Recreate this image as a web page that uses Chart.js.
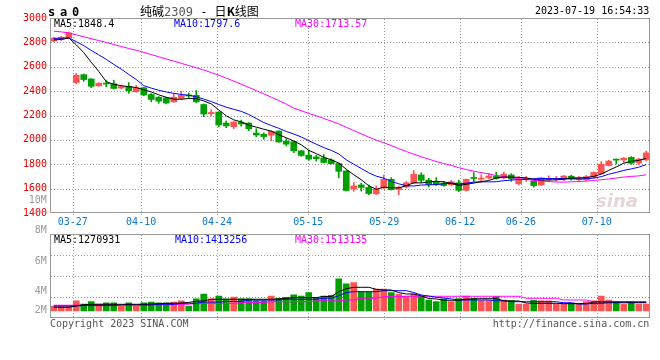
<!DOCTYPE html>
<html>
<head>
<meta charset="utf-8">
<script src="https://cdn.jsdelivr.net/npm/chart.js@4.4.0/dist/chart.umd.min.js"></script>
<style>
  body { margin: 0; background: #fff; }
  #wrap { position: relative; width: 660px; height: 360px; overflow: hidden;
          font-family: "DejaVu Sans Mono", monospace; font-size: 10px; color: #000; }
  #wrap canvas { position: absolute; left: 0; }
  .t { position: absolute; white-space: nowrap; line-height: 10px; }
  .cjk { font-family: "Noto Sans CJK SC", sans-serif; }
</style>
</head>
<body>
<div id="wrap">
  <canvas id="priceChart" width="660" height="230" style="top:0"></canvas>
  <canvas id="volChart" width="660" height="130" style="top:230px"></canvas>

  <div class="t" style="left:48px;top:6px;font-size:12px;line-height:12px;font-weight:bold;letter-spacing:4.8px">sa0</div>
  <div class="t" style="left:140px;top:4px;font-size:12px;line-height:13px"><span class="cjk">纯碱</span><span style="color:#555">2309</span> -  <span class="cjk">日<b>K</b>线图</span></div>
  <div class="t" style="right:10.7px;top:6px">2023-07-19 16:54:33</div>

  <div class="t" style="left:54px;top:18.5px;color:#000">MA5:1848.4</div>
  <div class="t" style="left:174px;top:18.5px;color:#0000ff">MA10:1797.6</div>
  <div class="t" style="left:295px;top:18.5px;color:#ff00ff">MA30:1713.57</div>

  <div class="t" style="left:54px;top:234.5px;color:#000">MA5:1270931</div>
  <div class="t" style="left:175px;top:234.5px;color:#0000ff">MA10:1413256</div>
  <div class="t" style="left:295px;top:234.5px;color:#ff00ff">MA30:1513135</div>

  <div class="t" style="left:50px;top:318.5px;color:#555">Copyright 2023 SINA.COM</div>
  <div class="t" style="right:10.7px;top:318.5px;color:#555">http://finance.sina.com.cn</div>

  <div class="t" style="left:596px;top:192px;font-family:'DejaVu Sans';font-size:18px;line-height:18px;font-weight:bold;font-style:italic;color:rgba(205,180,180,0.55)">sina</div>
</div>

<script>
"use strict";

// ---- data ----------------------------------------------------------------
const dates = [
  "03-22","03-23","03-24","03-27","03-28","03-29","03-30","03-31","04-03","04-04",
  "04-06","04-07","04-10","04-11","04-12","04-13","04-14","04-17","04-18","04-19",
  "04-20","04-21","04-24","04-25","04-26","04-27","04-28","05-04","05-05","05-08",
  "05-09","05-10","05-11","05-12","05-15","05-16","05-17","05-18","05-19","05-22",
  "05-23","05-24","05-25","05-26","05-29","05-30","05-31","06-01","06-02","06-05",
  "06-06","06-07","06-08","06-09","06-12","06-13","06-14","06-15","06-16","06-19",
  "06-20","06-21","06-26","06-27","06-28","06-29","06-30","07-03","07-04","07-05",
  "07-06","07-07","07-10","07-11","07-12","07-13","07-14","07-17","07-18","07-19"
];
const labelledDates = ["03-27","04-10","04-24","05-15","05-29","06-12","06-26","07-10"];

const openP = [
  2812,2825,2835,2470,2535,2500,2443,2465,2460,2425,
  2438,2395,2428,2372,2350,2345,2312,2340,2365,2365,
  2290,2215,2228,2138,2108,2145,2138,2056,2046,2038,
  2072,1990,1985,1910,1875,1860,1852,1835,1806,1745,
  1598,1630,1610,1558,1605,1676,1592,1614,1646,1712,
  1670,1656,1645,1632,1648,1586,1692,1677,1688,1703,
  1688,1712,1640,1676,1662,1630,1673,1675,1678,1702,
  1673,1673,1695,1722,1790,1840,1835,1856,1810,1836
];
const highP = [
  2842,2850,2885,2545,2540,2502,2468,2490,2490,2450,
  2470,2447,2432,2380,2355,2350,2378,2400,2385,2405,
  2295,2248,2232,2155,2150,2162,2142,2092,2058,2075,
  2075,2010,1988,1915,1915,1875,1880,1845,1810,1748,
  1650,1645,1630,1622,1712,1690,1622,1660,1748,1730,
  1685,1690,1660,1668,1670,1680,1732,1712,1725,1735,
  1735,1722,1700,1700,1668,1692,1705,1700,1708,1710,
  1700,1708,1738,1822,1833,1843,1855,1862,1848,1908
];
const lowP = [
  2805,2815,2830,2460,2480,2428,2440,2435,2418,2420,
  2382,2390,2362,2312,2300,2295,2308,2332,2345,2305,
  2190,2195,2108,2100,2092,2112,2075,2025,2005,1993,
  1980,1950,1895,1865,1832,1825,1810,1800,1688,1580,
  1578,1580,1550,1550,1600,1588,1550,1605,1640,1650,
  1615,1625,1620,1622,1575,1580,1658,1650,1680,1677,
  1680,1660,1630,1660,1612,1625,1658,1660,1665,1670,
  1665,1665,1685,1718,1785,1802,1815,1800,1795,1828
];
const closeP = [
  2835,2842,2878,2530,2495,2440,2465,2458,2422,2437,
  2402,2428,2368,2332,2318,2302,2350,2365,2360,2312,
  2212,2225,2122,2115,2147,2130,2092,2040,2027,2070,
  1983,1965,1910,1872,1842,1846,1815,1805,1742,1585,
  1622,1610,1560,1595,1676,1592,1608,1648,1717,1668,
  1634,1633,1625,1656,1586,1676,1684,1686,1703,1685,
  1718,1680,1676,1682,1625,1688,1682,1684,1703,1678,
  1690,1698,1733,1800,1826,1834,1850,1808,1842,1893
];

const ma5 = [
  2820,2824,2837,2780,2716,2637,2561.6,2477.6,2456,2444.4,
  2436.8,2429.4,2411.4,2393.4,2369.6,2349.6,2334,2333.4,2339,2337.8,
  2319.8,2294.8,2246.2,2197.2,2164.2,2147.8,2121.2,2104.8,2087.2,2071.8,
  2042.4,2017,1991,1960,1914.4,1887,1857,1836,1810,1758.6,
  1713.8,1672.8,1623.8,1594.4,1612.6,1606.6,1606.2,1623.8,1648.2,1646.6,
  1655,1660,1655.4,1643.2,1626.8,1635.2,1645.4,1657.6,1667,1686.8,
  1695.2,1694.4,1692.4,1688.2,1676.2,1670.2,1670.6,1672.2,1676.4,1687,
  1687.4,1690.6,1700.4,1719.8,1749.4,1778.2,1808.6,1823.6,1832,1848.4
];
const ma10 = [
  2833,2834,2836.5,2806.5,2773,2734,2697.5,2660.3,2619.5,2580.2,
  2536.9,2495.5,2444.5,2424.7,2407,2393.2,2381.7,2372.4,2366.2,2353.7,
  2334.7,2314.4,2289.8,2268.1,2251,2233.8,2208,2175.5,2142.2,2118,
  2095.1,2069.1,2047.9,2023.6,1993.1,1964.7,1937,1913.5,1885,1836.5,
  1800.4,1764.9,1729.9,1702.2,1685.6,1660.2,1639.5,1623.8,1621.3,1629.6,
  1630.8,1633.1,1639.6,1645.7,1636.7,1645.1,1652.7,1656.5,1655.1,1656.8,
  1665.2,1669.9,1675,1677.6,1681.5,1682.7,1682.5,1682.3,1682.3,1681.6,
  1678.8,1680.6,1686.3,1698.1,1718.2,1732.8,1749.6,1762,1775.9,1797.6
];
const ma30 = [
  2892,2886,2878,2862,2846,2830,2815,2799,2783,2766,
  2750,2735,2718,2700,2682,2664,2646,2628,2610,2592,
  2573,2552,2531,2507,2482,2457,2431,2404,2378,2350.6,
  2322.2,2293,2260.7,2238.8,2217,2197.2,2175.6,2153.8,2131.1,2102.7,
  2076.7,2049.5,2022.5,1998,1976.6,1952.9,1928.2,1904.3,1882.8,1861.4,
  1842.1,1822.4,1805.8,1790.5,1771.8,1756.7,1743.1,1731.3,1720.5,1707.6,
  1698.8,1689.3,1681.5,1675.2,1667.9,1662.7,1658.2,1654.2,1652.9,1656,
  1658.3,1661.2,1667,1673.8,1678.8,1686.9,1694.9,1700.3,1704.4,1713.57
];

const volume = [
  780000,780000,780000,1580000,1100000,1460000,1100000,1270000,1270000,780000,
  1270000,780000,1270000,1410000,1270000,1270000,1410000,1580000,780000,1890000,
  2670000,1890000,2360000,1890000,2200000,1890000,1890000,1620000,1620000,2360000,
  1990000,2150000,2520000,2360000,2880000,2150000,2360000,2460000,5040000,4260000,
  4460000,3040000,3040000,3450000,3450000,2880000,2670000,2360000,2670000,2360000,
  1730000,1460000,1890000,1460000,1930000,2360000,1990000,1620000,1620000,2250000,
  1730000,1620000,1100000,1100000,1730000,1580000,1580000,1100000,1100000,1210000,
  1100000,1460000,1580000,2360000,1730000,1460000,1100000,1460000,1100000,1100000
];
const volMa5 = [
  580000,580000,580000,800000,1000000,1050000,1050000,1050000,1050000,1050000,
  1050000,1050000,1050000,1100000,1150000,1200000,1210000,1250000,1350000,1500000,
  1600000,1840000,1840000,1840000,1840000,1840000,1840000,1840000,1840000,1840000,
  1900000,2000000,2090000,2090000,2090000,2090000,2300000,2250000,3030000,3500000,
  3720000,3720000,3720000,3400000,3300000,3300000,2900000,2670000,2670000,2360000,
  1950000,1890000,1700000,1680000,1680000,1850000,1890000,1930000,1930000,1930000,
  1600000,1570000,1570000,1250000,1210000,1210000,1210000,1210000,1150000,1150000,
  1150000,1150000,1410000,1410000,1400000,1400000,1400000,1380000,1380000,1380000
];
const volMa10 = [
  790000,790000,790000,790000,850000,850000,850000,850000,850000,940000,
  940000,940000,940000,940000,1050000,1050000,1050000,1210000,1210000,1210000,
  1400000,1400000,1400000,1500000,1500000,1500000,1730000,1730000,1730000,1730000,
  1730000,1850000,1850000,1850000,1850000,1850000,2000000,2000000,2400000,2900000,
  3030000,3030000,3030000,3030000,3190000,3190000,3190000,3190000,2900000,2510000,
  2350000,2150000,2050000,1900000,1730000,1730000,1730000,1730000,1730000,1600000,
  1600000,1460000,1460000,1460000,1460000,1460000,1460000,1460000,1300000,1300000,
  1100000,1100000,1200000,1200000,1300000,1300000,1300000,1300000,1300000,1300000
];
const volMa30 = [
  900000,900000,900000,900000,900000,900000,950000,950000,950000,950000,
  950000,950000,950000,1050000,1050000,1050000,1050000,1050000,1050000,1200000,
  1200000,1200000,1200000,1200000,1200000,1350000,1350000,1350000,1350000,1460000,
  1460000,1460000,1460000,1460000,1460000,1600000,1600000,1600000,1600000,1730000,
  1730000,2000000,2000000,2000000,2250000,2250000,2250000,2310000,2310000,2310000,
  2310000,2310000,2310000,2310000,2310000,2310000,2310000,2310000,2310000,2310000,
  2310000,2310000,2310000,2000000,2000000,2000000,2000000,2000000,1730000,1730000,
  1730000,1730000,1460000,1460000,1460000,1460000,1460000,1460000,1460000,1460000
];

const priceTicks = [1400, 1600, 1800, 2000, 2200, 2400, 2600, 2800, 3000];
const volAxisLabels = ["10M", "8M", "6M", "4M", "2M"];

// ---- styling -------------------------------------------------------------
const UP = "#ff5454";
const DOWN = "#00a000";
const DOTS = "#9a9a9a";

Chart.defaults.font.family = '"DejaVu Sans Mono", monospace';
Chart.defaults.font.size = 10;

const candleColors = closeP.map((c, i) => (c >= openP[i] ? UP : DOWN));
const labelIdx = labelledDates.map(d => dates.indexOf(d));

// dotted grid (1px dots, every 3px) behind the marks, plus the grey frame
const frame = {
  id: "frame",
  beforeDatasetsDraw(chart) {
    const { ctx, chartArea: a, scales } = chart;
    const l = Math.round(a.left), r = Math.round(a.right);
    const top = Math.round(a.top), bot = Math.round(a.bottom);
    ctx.save();
    ctx.fillStyle = DOTS;
    const yt = scales.y.ticks;
    for (let i = 1; i < yt.length - 1; i++) {
      const y = Math.round(scales.y.getPixelForValue(yt[i].value));
      for (let x = l + 1; x < r; x += 3) ctx.fillRect(x, y, 1, 1);
    }
    for (const t of scales.xd.ticks) {
      const x = Math.round(scales.xd.getPixelForValue(t.value));
      for (let y = top + 1; y < bot + 3; y += 3) ctx.fillRect(x, y, 1, 1);
    }
    ctx.restore();
  },
  afterDraw(chart) {
    const { ctx, chartArea: a } = chart;
    ctx.save();
    ctx.strokeStyle = "#999";
    ctx.lineWidth = 1;
    ctx.strokeRect(Math.round(a.left) + 0.5, Math.round(a.top) + 0.5,
                   Math.round(a.right - a.left) - 1, Math.round(a.bottom - a.top) - 1);
    ctx.restore();
  }
};

// date gridlines sit on a 0..n-1 linear axis, like the original
function dateAxis(showLabels, height) {
  return {
    type: "linear",
    position: "bottom",
    offset: false,
    min: 0,
    max: dates.length - 1,
    afterBuildTicks: axis => { axis.ticks = labelIdx.map(v => ({ value: v })); },
    afterFit: axis => { axis.height = height; },
    ticks: {
      display: showLabels,
      autoSkip: false,
      maxRotation: 0,
      padding: 3,
      color: "#0a78cc",
      callback: v => dates[v]
    },
    grid: { display: false, offset: false, drawTicks: false },
    border: { display: false }
  };
}

function maLine(values, color) {
  return {
    type: "line",
    data: values,
    borderColor: color,
    borderWidth: 1,
    pointRadius: 0,
    tension: 0,
    order: 0
  };
}

// ---- price chart ---------------------------------------------------------
new Chart(document.getElementById("priceChart"), {
  type: "bar",
  data: {
    labels: dates,
    datasets: [
      maLine(ma5, "#000000"),
      maLine(ma10, "#0000ff"),
      maLine(ma30, "#ff00ff"),
      {
        data: openP.map((o, i) => [o, closeP[i]]),
        backgroundColor: candleColors,
        barThickness: 6,
        minBarLength: 1,
        grouped: false,
        order: 1
      },
      {
        data: lowP.map((l, i) => [l, highP[i]]),
        backgroundColor: candleColors,
        barThickness: 1,
        grouped: false,
        order: 2
      }
    ]
  },
  options: {
    responsive: false,
    animation: false,
    events: [],
    layout: { padding: { top: 18, right: 10, left: 0, bottom: 0 } },
    plugins: { legend: { display: false }, tooltip: { enabled: false } },
    scales: {
      x: { display: false, offset: true },
      xd: dateAxis(true, 17),
      y: {
        min: 1400,
        max: 3000,
        afterBuildTicks: axis => { axis.ticks = priceTicks.map(v => ({ value: v })); },
        afterFit: axis => { axis.width = 50; },
        ticks: { color: "#e60000", padding: 3, callback: v => String(v) },
        grid: { display: false, drawTicks: false },
        border: { display: false }
      }
    }
  },
  plugins: [frame]
});

// ---- volume chart --------------------------------------------------------
new Chart(document.getElementById("volChart"), {
  type: "bar",
  data: {
    labels: dates,
    datasets: [
      maLine(volMa5, "#000000"),
      maLine(volMa10, "#0000ff"),
      maLine(volMa30, "#ff00ff"),
      {
        data: volume,
        backgroundColor: candleColors,
        barThickness: 6,
        grouped: false,
        order: 1
      }
    ]
  },
  options: {
    responsive: false,
    animation: false,
    events: [],
    layout: { padding: { top: 4.3, right: 10, left: 0, bottom: 41.7 } },
    plugins: { legend: { display: false }, tooltip: { enabled: false } },
    scales: {
      x: { display: false, offset: true },
      xd: dateAxis(false, 0),
      y: {
        min: -1150000,
        max: 12050000,
        afterBuildTicks: axis => {
          const step = (axis.max - axis.min) / 4;
          axis.ticks = [0, 1, 2, 3, 4].map(k => ({ value: axis.min + k * step }));
        },
        afterFit: axis => { axis.width = 50; },
        ticks: { display: false },
        grid: { display: false, drawTicks: false },
        border: { display: false }
      }
    }
  },
  plugins: [frame]
});

// left-hand volume captions (text positions, px from top)
const volLabelTop = [195, 225, 255.7, 285.7, 305];
const wrap = document.getElementById("wrap");
volAxisLabels.forEach((txt, i) => {
  const d = document.createElement("div");
  d.className = "t";
  d.style.right = "613.3px";
  d.style.top = volLabelTop[i] + "px";
  d.style.color = "#999";
  d.textContent = txt;
  wrap.appendChild(d);
});
</script>
</body>
</html>
